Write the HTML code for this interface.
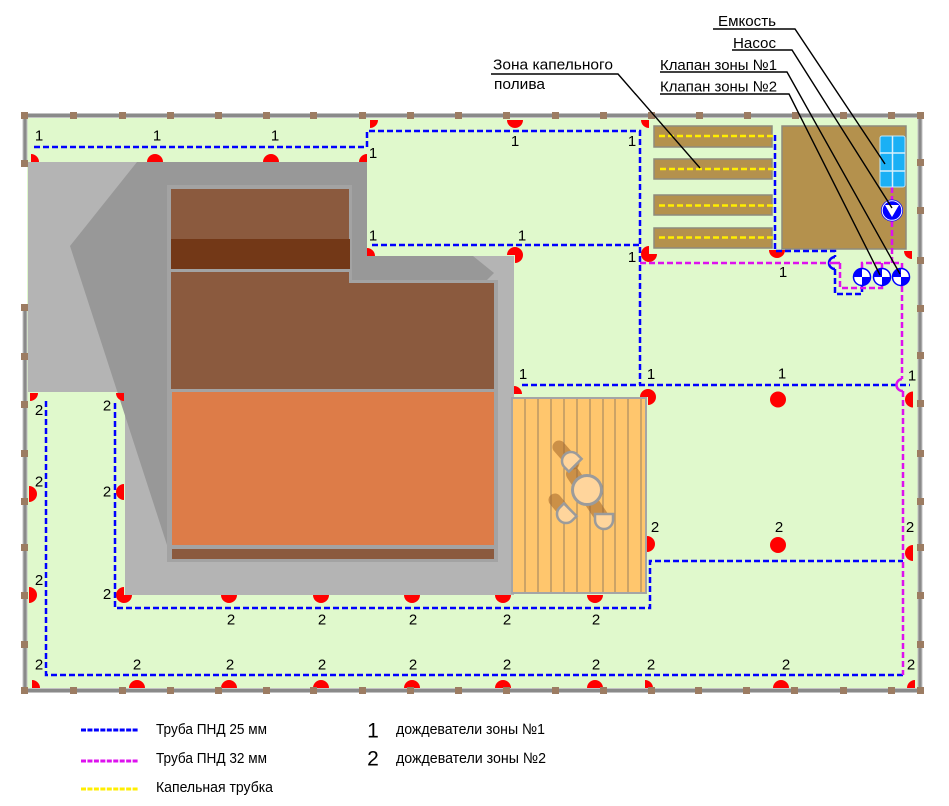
<!DOCTYPE html>
<html><head><meta charset="utf-8"><style>
html,body{margin:0;padding:0;background:#fff;}
svg{display:block;font-family:"Liberation Sans",Arial,sans-serif;}
</style></head><body>
<svg width="949" height="806" viewBox="0 0 949 806" xmlns="http://www.w3.org/2000/svg">
<rect width="949" height="806" fill="#fff"/>
<!-- lawn -->
<rect x="27" y="117" width="891" height="571" fill="#e0f9cc"/>
<!-- paved area -->
<polygon points="28,162 367,162 367,256 514,256 514,595 125,595 125,392 28,392" fill="#b4b4b4"/>
<polygon points="137,162 367,162 367,256 473,256 494,273 487,280 300,280 300,545 167,545 70,246" fill="#989898"/>
<!-- building -->
<polygon points="167,185 352,185 352,280 498,280 498,562 167,562" fill="#a3a3a3"/>
<rect x="171" y="189" width="178" height="50" fill="#8b5a3e"/>
<rect x="171" y="239" width="179" height="30" fill="#733817"/>
<polygon points="171,272 349,272 349,283 494,283 494,389 171,389" fill="#8b5a3e"/>
<rect x="172" y="392" width="322" height="153" fill="#dd7c48"/>
<rect x="172" y="549" width="322" height="10" fill="#8b5a3e"/>
<!-- patio -->
<rect x="512" y="398" width="134" height="195" fill="#ffc66d" stroke="#a5a5a5" stroke-width="2"/>
<g stroke="#9a8060" stroke-width="1">
<line x1="525" y1="399" x2="525" y2="592"/><line x1="538" y1="399" x2="538" y2="592"/>
<line x1="551" y1="399" x2="551" y2="592"/><line x1="564" y1="399" x2="564" y2="592"/>
<line x1="577" y1="399" x2="577" y2="592"/><line x1="590" y1="399" x2="590" y2="592"/>
<line x1="603" y1="399" x2="603" y2="592"/><line x1="615" y1="399" x2="615" y2="592"/>
<line x1="628" y1="399" x2="628" y2="592"/><line x1="641" y1="399" x2="641" y2="592"/>
</g>
<!-- drip beds & storage -->
<g fill="#b4914d" stroke="#8e8b7c" stroke-width="1.5">
<rect x="654" y="126" width="118" height="21"/>
<rect x="654" y="159" width="118" height="20"/>
<rect x="654" y="195" width="118" height="20"/>
<rect x="654" y="228" width="118" height="20"/>
<rect x="782" y="126" width="124" height="123"/>
</g>
<g stroke="#ffee00" stroke-width="2.5" stroke-dasharray="6 3" fill="none">
<line x1="659" y1="136" x2="775" y2="136"/>
<line x1="660" y1="169" x2="775" y2="169"/>
<line x1="659" y1="205.5" x2="775" y2="205.5"/>
<line x1="659" y1="237.5" x2="775" y2="237.5"/>
</g>
<!-- sprinklers -->
<g fill="#ff0000">
<path d="M31 162 V154 A8 8 0 0 1 39 162 Z"/>
<path d="M147 162 A8 8 0 0 1 163 162 Z"/>
<path d="M263 162 A8 8 0 0 1 279 162 Z"/>
<path d="M367 162 H359 A8 8 0 0 1 367 154 Z"/>
<path d="M370 120 H378 A8 8 0 0 1 370 128 Z"/>
<path d="M523 120 A8 8 0 0 1 507 120 Z"/>
<path d="M649 120 V128 A8 8 0 0 1 641 120 Z"/>
<path d="M367 256 V248 A8 8 0 0 1 375 256 Z"/>
<path d="M515 255 H507 A8 8 0 1 1 515 263 Z"/>
<path d="M649 254 H657 A8 8 0 1 1 649 246 Z"/>
<path d="M785 250 A8 8 0 0 1 769 250 Z"/>
<path d="M912 251 V259 A8 8 0 0 1 904 251 Z"/>
<path d="M514 394 V386 A8 8 0 0 1 522 394 Z"/>
<path d="M648 397 H640 A8 8 0 1 1 648 405 Z"/>
<circle cx="778" cy="399.5" r="8"/>
<path d="M913 407.5 A8 8 0 0 1 913 391.5 Z"/>
<path d="M30 393 H38 A8 8 0 0 1 30 401 Z"/>
<path d="M124 393 V401 A8 8 0 0 1 116 393 Z"/>
<path d="M29 486 A8 8 0 0 1 29 502 Z"/>
<path d="M124 500 A8 8 0 0 1 124 484 Z"/>
<path d="M29 587 A8 8 0 0 1 29 603 Z"/>
<path d="M124 595 H132 A8 8 0 1 1 124 587 Z"/>
<path d="M237 595 A8 8 0 0 1 221 595 Z"/>
<path d="M329 595 A8 8 0 0 1 313 595 Z"/>
<path d="M420 595 A8 8 0 0 1 404 595 Z"/>
<path d="M511 595 A8 8 0 0 1 495 595 Z"/>
<path d="M603 595 A8 8 0 0 1 587 595 Z"/>
<path d="M32 688 V680 A8 8 0 0 1 40 688 Z"/>
<path d="M129 688 A8 8 0 0 1 145 688 Z"/>
<path d="M221 688 A8 8 0 0 1 237 688 Z"/>
<path d="M313 688 A8 8 0 0 1 329 688 Z"/>
<path d="M404 688 A8 8 0 0 1 420 688 Z"/>
<path d="M495 688 A8 8 0 0 1 511 688 Z"/>
<path d="M587 688 A8 8 0 0 1 603 688 Z"/>
<path d="M773 688 A8 8 0 0 1 789 688 Z"/>
<path d="M645 688 V680 A8 8 0 0 1 653 688 Z"/>
<path d="M915 688 H907 A8 8 0 0 1 915 680 Z"/>
<path d="M647 536 A8 8 0 0 1 647 552 Z"/>
<circle cx="778" cy="545" r="8"/>
<path d="M913 561 A8 8 0 0 1 913 545 Z"/>
</g>
<!-- pipes zone 1 -->
<g fill="none" stroke="#0000ff" stroke-width="2.5" stroke-dasharray="6 3">
<path d="M34 147 H367 V131 H640 V385"/>
<path d="M372 245 H640"/>
<path d="M522 385 H910"/>
<path d="M775 135 V251 H835 V257"/>
<path d="M835 269 V294 H862 V286"/>
<path d="M46 401 V675 H903"/>
<path d="M115 403 V608 H650 V561 H903"/>
</g>
<path d="M835 257 A6 6 0 0 0 835 269" fill="none" stroke="#0000ff" stroke-width="2.5"/>
<g fill="none" stroke="#dd11ee" stroke-width="2.5" stroke-dasharray="6 3">
<path d="M892 187 V200"/>
<path d="M892 221 V263"/>
<path d="M862 268 V263 H902 V268"/>
<path d="M882 263 V268"/>
<path d="M640 263 H829"/>
<path d="M840 263 V288 H882 V286"/>
<path d="M902 286 V379"/>
<path d="M903 391 V675"/>
</g>
<path d="M829 263 H840" stroke="#dd11ee" stroke-width="2.5"/>
<path d="M902 379 A6 6 0 0 0 903 391" fill="none" stroke="#dd11ee" stroke-width="2.5"/>
<!-- tank -->
<rect x="880" y="136" width="25" height="51" rx="2" fill="#1ab0f5" stroke="#bfe6fb" stroke-width="1"/>
<g stroke="#d8f0fc" stroke-width="1.5">
<line x1="892.5" y1="136" x2="892.5" y2="187"/>
<line x1="880" y1="153" x2="905" y2="153"/>
<line x1="880" y1="171" x2="905" y2="171"/>
</g>
<!-- pump -->
<circle cx="892" cy="210.5" r="11" fill="#0000ff"/>
<circle cx="892" cy="210.5" r="9.8" fill="none" stroke="#fff" stroke-width="1"/>
<polygon points="885,205 899,205 892,217" fill="#fff"/>
<!-- valves -->
<g>
<circle cx="862" cy="277" r="8.5" fill="#fff" stroke="#0000ff" stroke-width="1.5"/>
<path d="M862 277 H853.5 A8.5 8.5 0 0 1 862 268.5 Z M862 277 H870.5 A8.5 8.5 0 0 1 862 285.5 Z" fill="#0000ff"/>
<circle cx="882" cy="277" r="8.5" fill="#fff" stroke="#0000ff" stroke-width="1.5"/>
<path d="M882 277 H873.5 A8.5 8.5 0 0 1 882 268.5 Z M882 277 H890.5 A8.5 8.5 0 0 1 882 285.5 Z" fill="#0000ff"/>
<circle cx="901" cy="277" r="8.5" fill="#fff" stroke="#0000ff" stroke-width="1.5"/>
<path d="M901 277 H892.5 A8.5 8.5 0 0 1 901 268.5 Z M901 277 H909.5 A8.5 8.5 0 0 1 901 285.5 Z" fill="#0000ff"/>
</g>
<!-- table set -->
<g stroke="rgba(160,100,40,0.55)" stroke-linecap="round" fill="none">
<line x1="559" y1="447" x2="573" y2="463" stroke-width="13"/>
<line x1="573" y1="474" x2="605" y2="522" stroke-width="14"/>
<line x1="555" y1="500" x2="565" y2="512" stroke-width="13"/>
</g>
<g fill="#ffd59c" stroke="#9b9b9b" stroke-width="2.5">
<circle cx="587" cy="490" r="14.5" stroke-width="3"/>
<path d="M-9 -6 H9 V0 A9 9 0 0 1 -9 0 Z" transform="translate(571,461) rotate(135)"/>
<path d="M-9 -6 H9 V0 A9 9 0 0 1 -9 0 Z" transform="translate(566,514) rotate(45)"/>
<path d="M-9 -6 H9 V0 A9 9 0 0 1 -9 0 Z" transform="translate(604,520)"/>
</g>
<!-- fence -->
<g fill="none" stroke-linecap="butt">
<path d="M25 165 V115.5 H920 V690.5 H25 V305" stroke="#c2c2c2" stroke-width="5"/>
<path d="M25 165 V115.5 H920 V690.5 H25 V305" stroke="#8a8a8a" stroke-width="3"/>
</g>
<g fill="#9c7c62">
<rect x="21" y="112" width="7" height="7"/><rect x="70" y="112" width="7" height="7"/><rect x="119" y="112" width="7" height="7"/><rect x="167" y="112" width="7" height="7"/><rect x="215" y="112" width="7" height="7"/><rect x="263" y="112" width="7" height="7"/><rect x="310" y="112" width="7" height="7"/><rect x="359" y="112" width="7" height="7"/><rect x="407" y="112" width="7" height="7"/><rect x="455" y="112" width="7" height="7"/><rect x="503" y="112" width="7" height="7"/><rect x="552" y="112" width="7" height="7"/><rect x="600" y="112" width="7" height="7"/><rect x="648" y="112" width="7" height="7"/><rect x="696" y="112" width="7" height="7"/><rect x="744" y="112" width="7" height="7"/><rect x="792" y="112" width="7" height="7"/><rect x="840" y="112" width="7" height="7"/><rect x="888" y="112" width="7" height="7"/><rect x="917" y="112" width="7" height="7"/>
<rect x="21" y="687" width="7" height="7"/><rect x="70" y="687" width="7" height="7"/><rect x="119" y="687" width="7" height="7"/><rect x="167" y="687" width="7" height="7"/><rect x="215" y="687" width="7" height="7"/><rect x="263" y="687" width="7" height="7"/><rect x="310" y="687" width="7" height="7"/><rect x="359" y="687" width="7" height="7"/><rect x="407" y="687" width="7" height="7"/><rect x="455" y="687" width="7" height="7"/><rect x="503" y="687" width="7" height="7"/><rect x="552" y="687" width="7" height="7"/><rect x="600" y="687" width="7" height="7"/><rect x="648" y="687" width="7" height="7"/><rect x="695" y="687" width="7" height="7"/><rect x="743" y="687" width="7" height="7"/><rect x="791" y="687" width="7" height="7"/><rect x="840" y="687" width="7" height="7"/><rect x="888" y="687" width="7" height="7"/><rect x="917" y="687" width="7" height="7"/>
<rect x="21" y="160" width="7" height="7"/><rect x="21" y="304" width="7" height="7"/><rect x="21" y="353" width="7" height="7"/><rect x="21" y="401" width="7" height="7"/><rect x="21" y="450" width="7" height="7"/><rect x="21" y="498" width="7" height="7"/><rect x="21" y="544" width="7" height="7"/><rect x="21" y="592" width="7" height="7"/><rect x="21" y="641" width="7" height="7"/>
<rect x="917" y="159" width="7" height="7"/><rect x="917" y="207" width="7" height="7"/><rect x="917" y="257" width="7" height="7"/><rect x="917" y="305" width="7" height="7"/><rect x="917" y="352" width="7" height="7"/><rect x="917" y="400" width="7" height="7"/><rect x="917" y="450" width="7" height="7"/><rect x="917" y="498" width="7" height="7"/><rect x="917" y="544" width="7" height="7"/><rect x="917" y="592" width="7" height="7"/><rect x="917" y="641" width="7" height="7"/>
</g>
<!-- zone labels -->
<g font-size="15" fill="#000" text-anchor="middle">
<text x="39" y="140.5">1</text><text x="157" y="140.5">1</text><text x="275" y="140.5">1</text>
<text x="373" y="158">1</text><text x="515" y="146">1</text><text x="632" y="146">1</text>
<text x="373" y="240.5">1</text><text x="522" y="240.5">1</text><text x="632" y="262">1</text>
<text x="783" y="277">1</text><text x="523" y="379">1</text><text x="651" y="379">1</text>
<text x="782" y="378.5">1</text><text x="912" y="380.5">1</text>
<text x="39" y="415">2</text><text x="107" y="410.5">2</text>
<text x="39" y="486.5">2</text><text x="107" y="496.5">2</text>
<text x="39" y="585">2</text><text x="107" y="599">2</text>
<text x="39" y="669.5">2</text><text x="137" y="669.5">2</text><text x="230" y="669.5">2</text>
<text x="322" y="669.5">2</text><text x="413" y="669.5">2</text><text x="507" y="669.5">2</text><text x="596" y="669.5">2</text>
<text x="651" y="669.5">2</text><text x="786" y="669.5">2</text><text x="911" y="669.5">2</text>
<text x="231" y="624.5">2</text><text x="322" y="624.5">2</text><text x="413" y="624.5">2</text><text x="507" y="624.5">2</text><text x="596" y="624.5">2</text>
<text x="655" y="532">2</text><text x="779" y="532">2</text><text x="910" y="532">2</text>
</g>
<!-- leader lines -->
<g stroke="#000" stroke-width="1.4" fill="none">
<path d="M713 29 H795 L885 164"/>
<path d="M732 50 H792 L892 208"/>
<path d="M660 72 H787 L900 274"/>
<path d="M660 94 H789 L880 275"/>
<path d="M491 74 H618 L700 168"/>
</g>
<g font-size="15" fill="#000">
<text x="776" y="26" text-anchor="end" textLength="58" lengthAdjust="spacingAndGlyphs">Емкость</text>
<text x="776" y="48" text-anchor="end" textLength="43" lengthAdjust="spacingAndGlyphs">Насос</text>
<text x="660" y="70" textLength="117" lengthAdjust="spacingAndGlyphs">Клапан зоны №1</text>
<text x="660" y="91.5" textLength="117" lengthAdjust="spacingAndGlyphs">Клапан зоны №2</text>
<text x="493" y="69.5" textLength="120" lengthAdjust="spacingAndGlyphs">Зона капельного</text>
<text x="494" y="89" textLength="51" lengthAdjust="spacingAndGlyphs">полива</text>
</g>
<!-- legend -->
<g stroke-width="3" stroke-dasharray="5 1.45" fill="none">
<line x1="81" y1="730" x2="139" y2="730" stroke="#0000ff"/>
<line x1="81" y1="761" x2="139" y2="761" stroke="#dd11ee"/>
<line x1="81" y1="789" x2="139" y2="789" stroke="#ffee00"/>
</g>
<g font-size="15" fill="#000">
<text x="156" y="734" textLength="111" lengthAdjust="spacingAndGlyphs">Труба ПНД 25 мм</text>
<text x="156" y="763" textLength="111" lengthAdjust="spacingAndGlyphs">Труба ПНД 32 мм</text>
<text x="156" y="792" textLength="117" lengthAdjust="spacingAndGlyphs">Капельная трубка</text>
<text x="396" y="734" textLength="149" lengthAdjust="spacingAndGlyphs">дождеватели зоны №1</text>
<text x="396" y="763" textLength="150" lengthAdjust="spacingAndGlyphs">дождеватели зоны №2</text>
</g>
<g font-size="21" fill="#000" text-anchor="middle">
<text x="373" y="737.5">1</text>
<text x="373" y="765.5">2</text>
</g>
</svg>
</body></html>
